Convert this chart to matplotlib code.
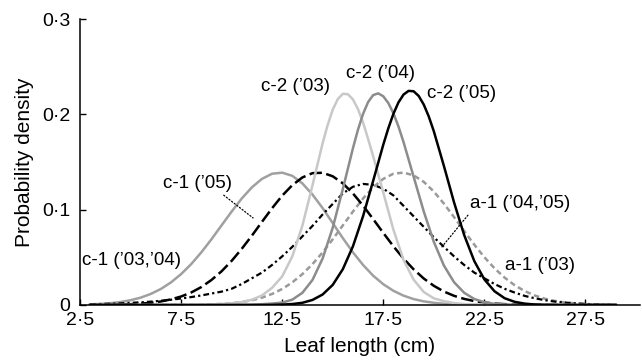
import matplotlib
matplotlib.use("Agg")
import matplotlib.pyplot as plt

plt.rcParams['font.family'] = ['Liberation Sans', 'DejaVu Sans']

leaf_len = [3.0, 3.5, 4.0, 4.5, 5.0, 5.5, 6.0, 6.5, 7.0, 7.5,
            8.0, 8.5, 9.0, 9.5, 10.0, 10.5, 11.0, 11.5, 12.0, 12.5,
            13.0, 13.5, 14.0, 14.5, 15.0, 15.5, 16.0, 16.5, 17.0, 17.5,
            18.0, 18.5, 19.0, 19.5, 20.0, 20.5, 21.0, 21.5, 22.0, 22.5,
            23.0, 23.5, 24.0, 24.5, 25.0, 25.5, 26.0, 26.5, 27.0, 27.5,
            28.0, 28.5, 29.0]

# probability density for each group
c1_0304 = [0.0007, 0.0011, 0.0019, 0.0031, 0.0050, 0.0077, 0.0116, 0.0168, 0.0237, 0.0324,
           0.0429, 0.0552, 0.0689, 0.0835, 0.0980, 0.1117, 0.1234, 0.1323, 0.1377, 0.1388,
           0.1355, 0.1275, 0.1158, 0.1016, 0.0859, 0.0701, 0.0552, 0.0420, 0.0307, 0.0218,
           0.0149, 0.0098, 0.0062, 0.0038, 0.0023, 0.0013, 0.0007, 0.0004, 0.0002, 0.0001,
           0, 0, 0, 0, 0, 0, 0, 0, 0, 0,
           0, 0, 0]
c1_05 = [0.0001, 0.0001, 0.0003, 0.0005, 0.0008, 0.0014, 0.0023, 0.0037, 0.0059, 0.0089,
         0.0131, 0.0188, 0.0262, 0.0353, 0.0463, 0.0589, 0.0727, 0.0872, 0.1015, 0.1147,
         0.1257, 0.1338, 0.1383, 0.1387, 0.1350, 0.1276, 0.1170, 0.1042, 0.0901, 0.0756,
         0.0616, 0.0487, 0.0374, 0.0278, 0.0201, 0.0141, 0.0096, 0.0064, 0.0041, 0.0026,
         0.0015, 0.0009, 0.0005, 0.0003, 0.0002, 0.0001, 0, 0, 0, 0,
         0, 0, 0]
c2_03 = [0, 0, 0, 0, 0, 0, 0, 0, 0, 0,
         0, 0.0002, 0.0005, 0.0010, 0.0018, 0.0030, 0.0055, 0.0100, 0.0180, 0.0300,
         0.0510, 0.0833, 0.1257, 0.1697, 0.2049, 0.2215, 0.2156, 0.1914, 0.1560, 0.1180,
         0.0790, 0.0474, 0.0266, 0.0136, 0.0070, 0.0040, 0.0020, 0.0010, 0.0005, 0.0002,
         0, 0, 0, 0, 0, 0, 0, 0, 0, 0,
         0, 0, 0]
c2_04 = [0, 0, 0, 0, 0, 0, 0, 0, 0, 0,
         0, 0, 0, 0, 0, 0.0002, 0.0004, 0.0008, 0.0015, 0.0025,
         0.0056, 0.0128, 0.0263, 0.0488, 0.0811, 0.1217, 0.1645, 0.2005, 0.2202, 0.2189,
         0.2011, 0.1710, 0.1346, 0.0982, 0.0662, 0.0413, 0.0239, 0.0128, 0.0063, 0.0029,
         0.0012, 0.0005, 0.0002, 0, 0, 0, 0, 0, 0, 0,
         0, 0, 0]
c2_05 = [0, 0, 0, 0, 0, 0, 0, 0, 0, 0,
         0, 0, 0, 0, 0, 0, 0, 0, 0.0001, 0.0004,
         0.0010, 0.0023, 0.0053, 0.0110, 0.0211, 0.0376, 0.0616, 0.0932, 0.1303, 0.1682,
         0.2005, 0.2207, 0.2242, 0.2103, 0.1822, 0.1457, 0.1076, 0.0734, 0.0461, 0.0268,
         0.0144, 0.0071, 0.0033, 0.0014, 0.0005, 0.0002, 0, 0, 0, 0,
         0, 0, 0]
a1_0405 = [0.0008, 0.0010, 0.0013, 0.0017, 0.0022, 0.0028, 0.0035, 0.0044, 0.0055, 0.0068,
           0.0083, 0.0100, 0.0120, 0.0140, 0.0170, 0.0220, 0.0280, 0.0340, 0.0420, 0.0510,
           0.0610, 0.0720, 0.0830, 0.0950, 0.1060, 0.1170, 0.1240, 0.1270, 0.1260, 0.1220,
           0.1150, 0.1040, 0.0930, 0.0820, 0.0710, 0.0610, 0.0510, 0.0420, 0.0340, 0.0280,
           0.0220, 0.0170, 0.0130, 0.0095, 0.0070, 0.0050, 0.0035, 0.0025, 0.0017, 0.0011,
           0.0007, 0.0004, 0.0002]
a1_03 = [0, 0, 0, 0, 0, 0, 0, 0, 0, 0,
         0, 0, 0.0007, 0.0011, 0.0019, 0.0031, 0.0050, 0.0077, 0.0116, 0.0168,
         0.0237, 0.0324, 0.0429, 0.0552, 0.0689, 0.0835, 0.0980, 0.1117, 0.1234, 0.1323,
         0.1377, 0.1389, 0.1360, 0.1292, 0.1190, 0.1063, 0.0922, 0.0776, 0.0633, 0.0501,
         0.0385, 0.0287, 0.0207, 0.0145, 0.0099, 0.0065, 0.0042, 0.0026, 0.0016, 0.0009,
         0.0005, 0.0003, 0.0002]

# extra readings around the narrow c-2 peaks
c2_03_len_extra = [14.75, 15.25, 15.75, 16.25, 16.75]
c2_03_extra = [0.1889, 0.2160, 0.2211, 0.2054, 0.1741]
c2_04_len_extra = [16.25, 16.75, 17.25, 17.75, 18.25]
c2_04_extra = [0.1840, 0.2129, 0.2220, 0.2118, 0.1873]
c2_05_len_extra = [17.75, 18.25, 18.75, 19.25, 19.75]
c2_05_extra = [0.1854, 0.2125, 0.2246, 0.2193, 0.1977]

x_ticks = [2.5, 7.5, 12.5, 17.5, 22.5, 27.5]
x_ticklabels = ['2·5', '7·5', '12·5', '17·5', '22·5', '27·5']
y_ticks = [0, 0.1, 0.2, 0.3]
y_ticklabels = ['0', '0·1', '0·2', '0·3']


def merged(xs, ys, xs_extra, ys_extra):
    pts = sorted(zip(list(xs) + list(xs_extra), list(ys) + list(ys_extra)))
    return [p[0] for p in pts], [p[1] for p in pts]


fig = plt.figure(figsize=(6.42, 3.62), dpi=100)
ax = fig.add_axes([0.1246, 0.1575, 0.8724, 0.79])

ax.plot(leaf_len, c1_0304, color='#a0a0a0', lw=1.8)
ax.plot(leaf_len, a1_03, color='#9a9a9a', lw=1.8, linestyle=(0, (2.2, 1.4)))
ax.plot(leaf_len, a1_0405, color='black', lw=1.6, linestyle=(0, (2.6, 1.4, 1.0, 1.4)))
ax.plot(leaf_len, c1_05, color='black', lw=1.8, linestyle=(0, (5, 1.8)))
ax.plot(*merged(leaf_len, c2_03, c2_03_len_extra, c2_03_extra), color='#c8c8c8', lw=1.8)
ax.plot(*merged(leaf_len, c2_04, c2_04_len_extra, c2_04_extra), color='#8c8c8c', lw=1.8)
ax.plot(*merged(leaf_len, c2_05, c2_05_len_extra, c2_05_extra), color='black', lw=1.8)

# curve labels
fs = 13.5
ax.text(2.58, 0.047, 'c-1 (’03,’04)', fontsize=fs, va='center', ha='left')
ax.text(19.66, 0.222, 'c-2 (’05)', fontsize=fs, va='center', ha='left')
ax.text(15.67, 0.243, 'c-2 (’04)', fontsize=fs, va='center', ha='left')
ax.text(11.46, 0.229, 'c-2 (’03)', fontsize=fs, va='center', ha='left')
ax.text(23.54, 0.0414, 'a-1 (’03)', fontsize=fs, va='center', ha='left')
ax.annotate('c-1 (’05)', xy=(11.06, 0.0913), xytext=(6.6, 0.127),
            fontsize=fs, va='center', ha='left',
            arrowprops=dict(arrowstyle='-', linestyle=':', color='black', lw=0.9,
                            shrinkA=0, shrinkB=0, relpos=(0.83, 0)))
ax.annotate('a-1 (’04,’05)', xy=(20.4, 0.061), xytext=(21.8, 0.106),
            fontsize=fs, va='center', ha='left',
            arrowprops=dict(arrowstyle='-', linestyle=':', color='black', lw=0.9,
                            shrinkA=0, shrinkB=0, relpos=(0.0, 0)))

ax.set_xlim(2.5, 30.2)
ax.set_ylim(0, 0.3)
ax.set_xticks(x_ticks)
ax.set_xticklabels(x_ticklabels)
ax.set_yticks(y_ticks)
ax.set_yticklabels(y_ticklabels)
ax.tick_params(direction='in', length=4, width=1, labelsize=14)
ax.tick_params(axis='x', pad=5)
ax.tick_params(axis='y', pad=7)

ax.spines['top'].set_visible(False)
ax.spines['right'].set_visible(False)
ax.spines['left'].set_linewidth(1.1)
ax.spines['bottom'].set_linewidth(1.1)

ax.set_xlabel('Leaf length (cm)', fontsize=15, labelpad=6)
ax.set_ylabel('Probability density', fontsize=15, labelpad=6)

fig.savefig('out.png', dpi=100)
